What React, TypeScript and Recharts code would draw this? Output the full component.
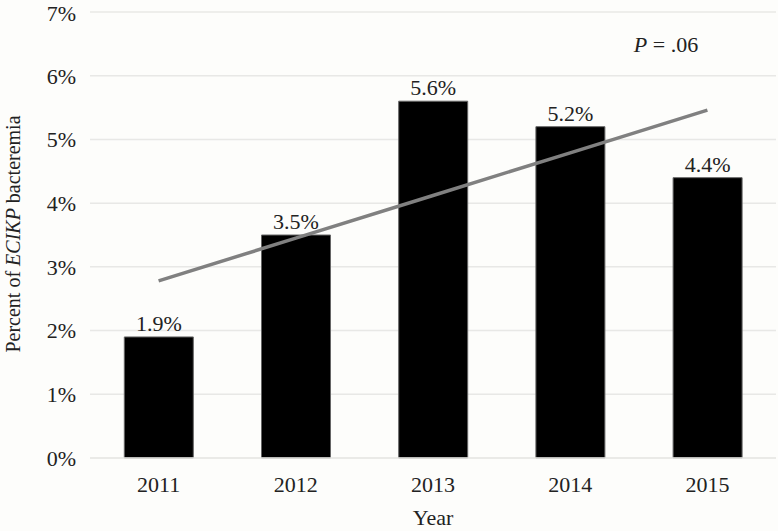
import React from "react";
import { ComposedChart, Bar, Line, XAxis, YAxis, CartesianGrid, LabelList, Label } from "recharts";

const years = ["2011", "2012", "2013", "2014", "2015"];
const percentValues = [1.9, 3.5, 5.6, 5.2, 4.4];
const trendValues = [2.78, 3.45, 4.12, 4.79, 5.46];
const yTicks = [0, 1, 2, 3, 4, 5, 6, 7];

const data = years.map((y, i) => ({ year: y, pct: percentValues[i], trend: trendValues[i] }));

const FONT = "'Liberation Serif', 'DejaVu Serif', serif";
const TEXT = "#222";

const YLabel = () => {
  const cx = 13;
  const cy = 234;
  return (
    <text
      x={cx}
      y={cy}
      transform={`rotate(-90, ${cx}, ${cy})`}
      textAnchor="middle"
      dominantBaseline="central"
      fontFamily={FONT}
      fontSize={20}
      fill={TEXT}
    >
      <tspan>Percent of </tspan>
      <tspan fontStyle="italic">ECIKP</tspan>
      <tspan> bacteremia</tspan>
    </text>
  );
};

export default function App() {
  return (
    <div style={{ position: "absolute", left: 0, top: 0, width: 778, height: 531, background: "#fdfdfb" }}>
      <ComposedChart
        width={778}
        height={531}
        data={data}
        margin={{ top: 12, right: 2, bottom: 13, left: 0 }}
        barCategoryGap="25%"
      >
        <CartesianGrid vertical={false} stroke="#e8e8e6" strokeWidth={1.5} />
        <XAxis
          dataKey="year"
          height={60}
          axisLine={{ stroke: "#e8e8e6", strokeWidth: 1.5 }}
          tickLine={false}
          tickMargin={12}
          tick={{ fontFamily: FONT, fontSize: 22, fill: TEXT }}
        >
          <Label
            value="Year"
            position="insideBottom"
            offset={-7}
            style={{ fontFamily: FONT, fontSize: 22, fill: TEXT }}
          />
        </XAxis>
        <YAxis
          width={90}
          domain={[0, 7]}
          ticks={yTicks}
          axisLine={false}
          tickLine={false}
          tickMargin={8}
          tickFormatter={(v: number) => `${v}%`}
          tick={{ fontFamily: FONT, fontSize: 22, fill: TEXT }}
        >
          <Label content={<YLabel />} />
        </YAxis>
        <Bar dataKey="pct" fill="#000" stroke="#666" strokeWidth={1} isAnimationActive={false}>
          <LabelList
            dataKey="pct"
            position="top"
            offset={6}
            formatter={(v: number) => `${v.toFixed(1)}%`}
            style={{ fontFamily: FONT, fontSize: 22, fill: TEXT }}
          />
        </Bar>
        <Line
          dataKey="trend"
          stroke="#808080"
          strokeWidth={3.5}
          dot={false}
          activeDot={false}
          isAnimationActive={false}
        />
        <text x={666} y={52} textAnchor="middle" fontFamily={FONT} fontSize={22} fill={TEXT}>
          <tspan fontStyle="italic">P</tspan>
          <tspan> = .06</tspan>
        </text>
      </ComposedChart>
    </div>
  );
}
